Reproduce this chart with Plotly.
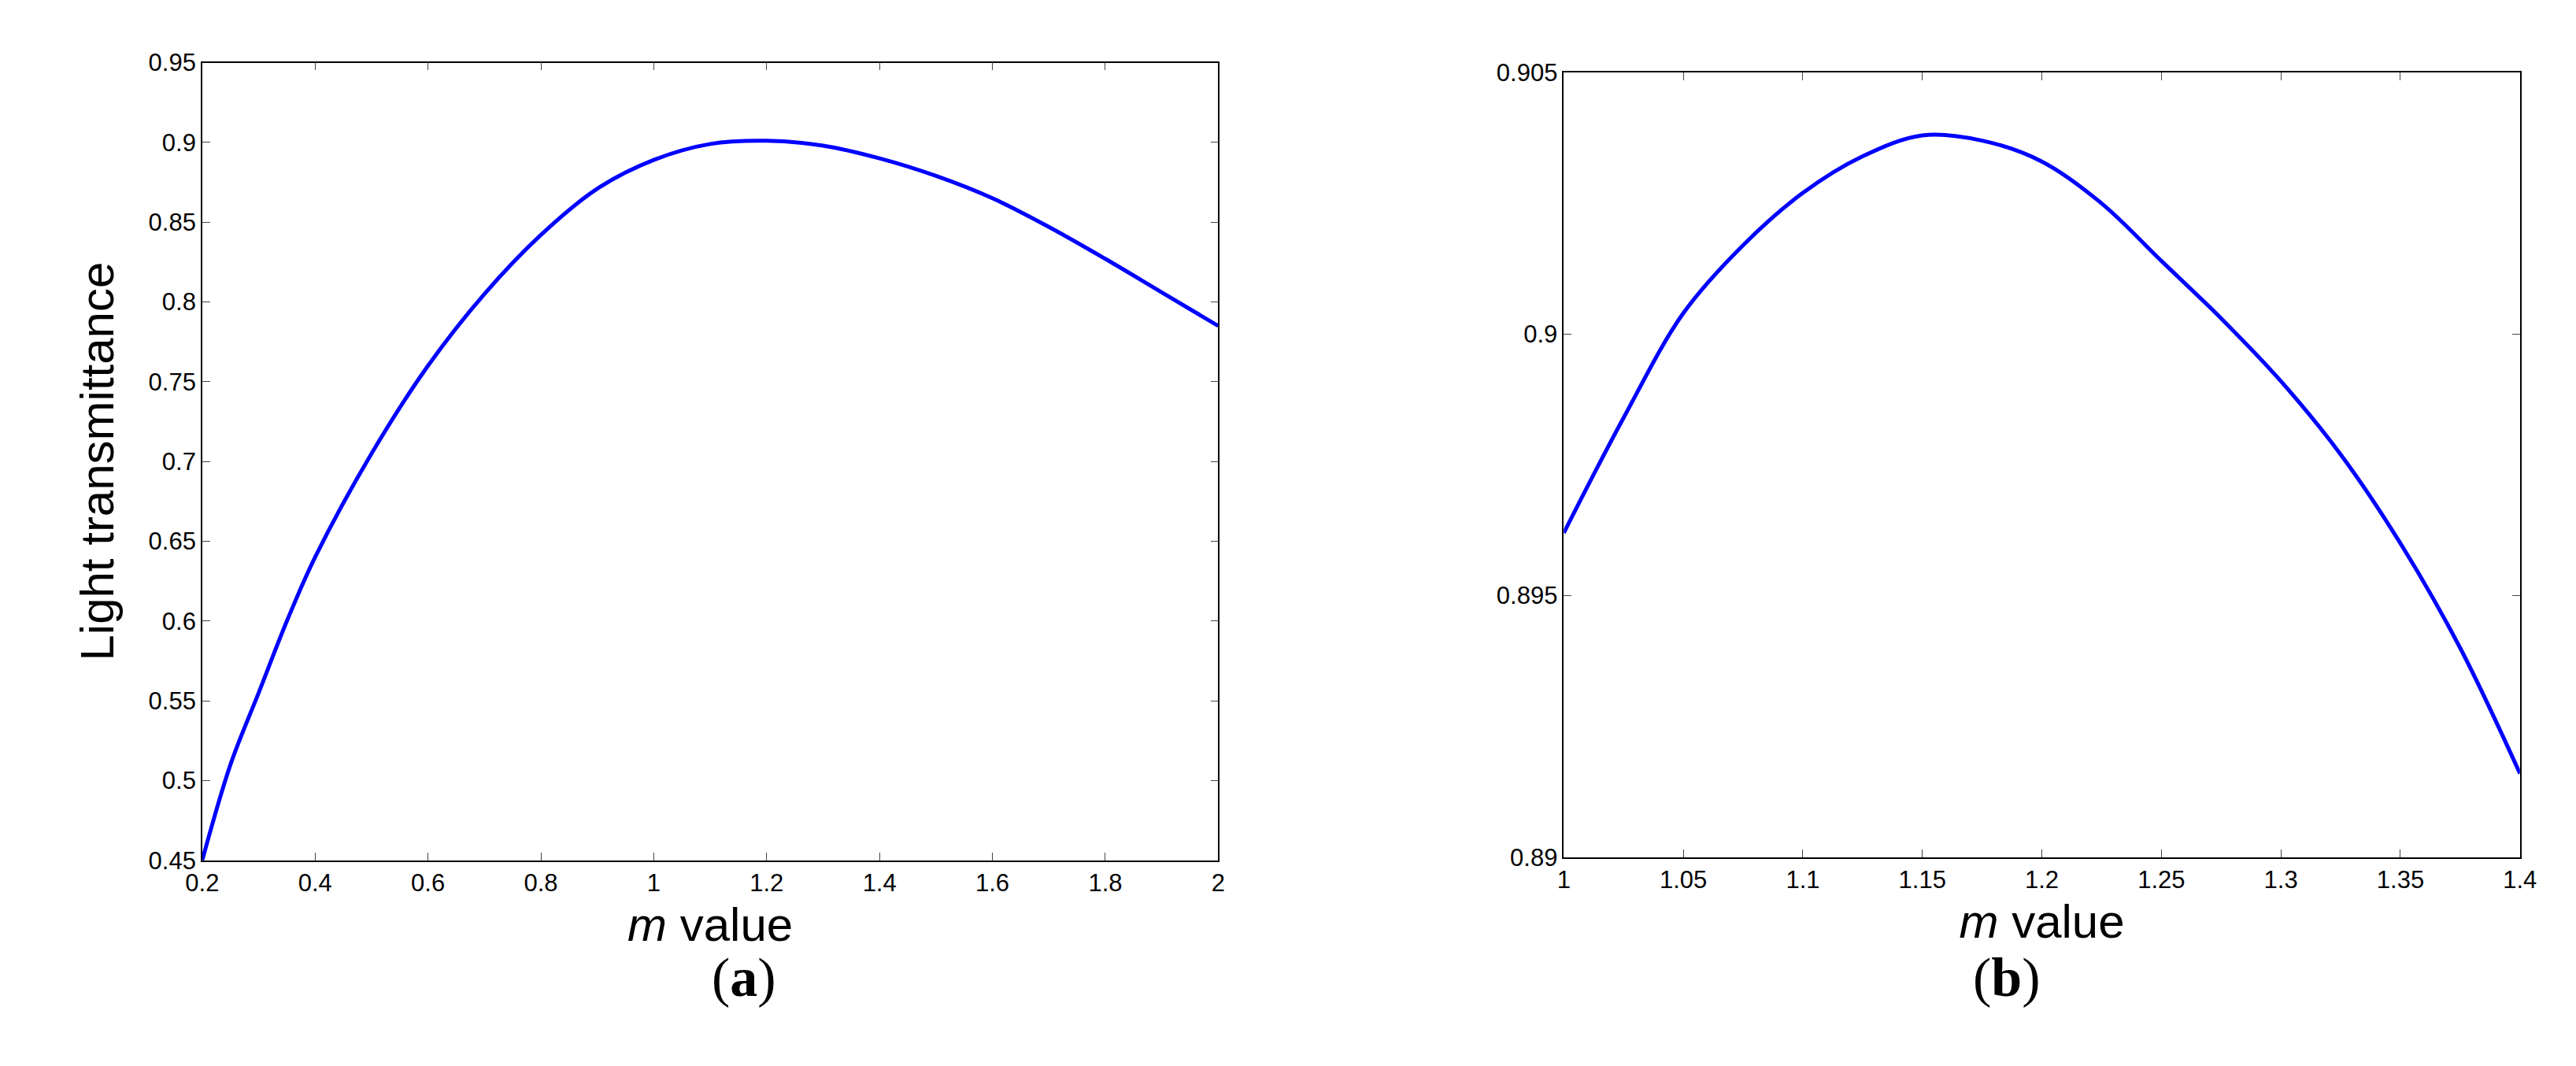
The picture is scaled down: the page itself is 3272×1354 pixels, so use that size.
import plotly.graph_objects as go

m_a = [0.2,0.25,0.3,0.35,0.4,0.5,0.6,0.7,0.8,0.9,1.0,1.1,1.2,1.3,1.4,1.5,1.6,1.7,1.8,1.9,2.0]
t_a = [0.45,0.51,0.555,0.6,0.64,0.705,0.76,0.805,0.842,0.871,0.889,0.899,0.901,0.898,0.89,0.879,0.865,0.847,0.827,0.806,0.785]
m_b = [1.0,1.025,1.05,1.075,1.1,1.125,1.15,1.175,1.2,1.225,1.25,1.275,1.3,1.325,1.35,1.375,1.4]
t_b = [0.8962,0.8984,0.9004,0.9017,0.9027,0.9034,0.9038,0.9037,0.9033,0.9025,0.9014,0.9003,0.8991,0.8977,0.8960,0.8940,0.8916]

fig = go.Figure()
fig.add_trace(go.Scatter(x=m_a, y=t_a, mode="lines", line=dict(color="#0000ff", width=5, shape="spline", smoothing=1.0), xaxis="x", yaxis="y"))
fig.add_trace(go.Scatter(x=m_b, y=t_b, mode="lines", line=dict(color="#0000ff", width=5, shape="spline", smoothing=1.0), xaxis="x2", yaxis="y2"))

ax = dict(showline=True, linecolor="black", linewidth=1.5, mirror="ticks", ticks="inside", ticklen=10,
          showgrid=False, zeroline=False, tickfont=dict(family="Arial", size=31, color="black"))
tf = dict(family="Arial", size=60, color="black")
fig.update_layout(
    width=3272, height=1354, paper_bgcolor="white", plot_bgcolor="white", showlegend=False,
    margin=dict(l=0, r=0, t=0, b=0),
    xaxis=dict(ax, domain=[230/3272, 1538/3272], anchor="y", range=[0.2, 2], dtick=0.2,
               title=dict(text="<i>m</i> value", font=tf, standoff=15)),
    yaxis=dict(ax, domain=[1-1096/1354, 1-56/1354], anchor="x", range=[0.45, 0.95], dtick=0.05,
               title=dict(text="Light transmittance", font=tf, standoff=25)),
    xaxis2=dict(ax, domain=[1983/3272, 3214/3272], anchor="y2", range=[1, 1.4], dtick=0.05,
                title=dict(text="<i>m</i> value", font=tf, standoff=15)),
    yaxis2=dict(ax, domain=[1-1092/1354, 1-69/1354], anchor="x2", range=[0.89, 0.905], dtick=0.005),
    annotations=[
        dict(text="(<b>a</b>)", x=(230+1538)/2/3272, y=1-1290/1354, xref="paper", yref="paper", showarrow=False,
             font=dict(family="Liberation Serif", size=70, color="black")),
        dict(text="(<b>b</b>)", x=(1983+3214)/2/3272, y=1-1290/1354, xref="paper", yref="paper", showarrow=False,
             font=dict(family="Liberation Serif", size=70, color="black")),
    ],
)
fig.write_html("out.html")
